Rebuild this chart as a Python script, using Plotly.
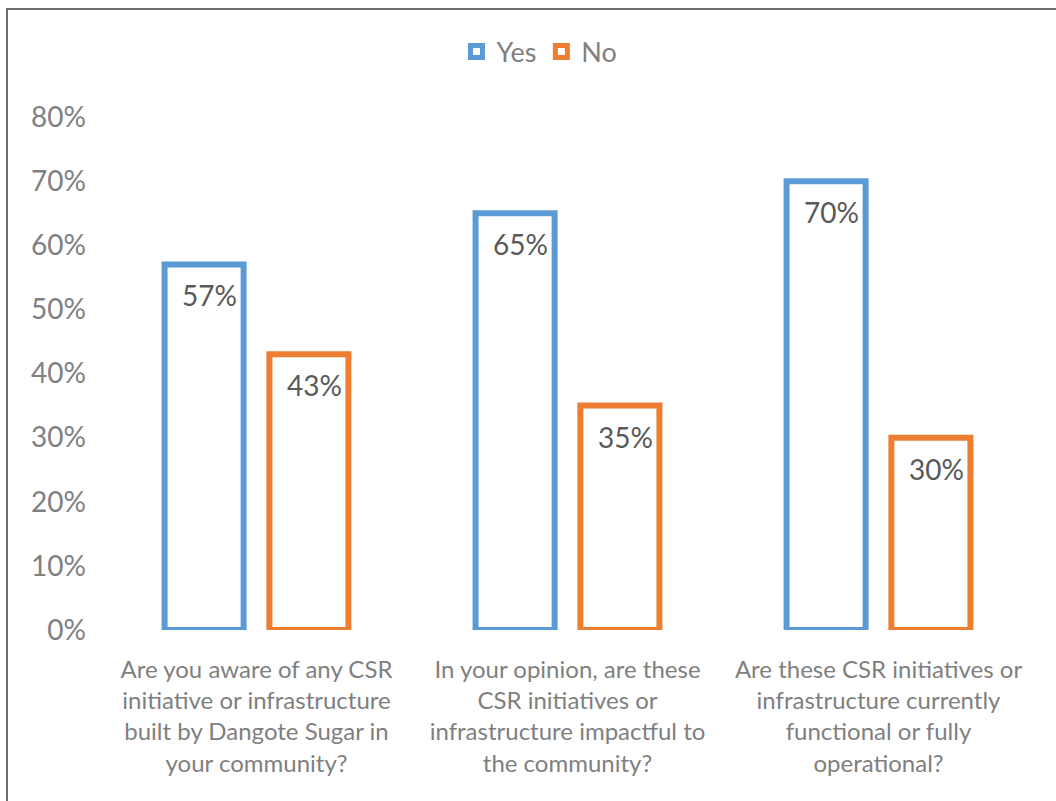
import plotly.graph_objects as go

categories = [
    "Are you aware of any CSR<br>initiative or infrastructure<br>built by Dangote Sugar in<br>your community?",
    "In your opinion, are these<br>CSR initiatives or<br>infrastructure impactful to<br>the community?",
    "Are these CSR initiatives or<br>infrastructure currently<br>functional or fully<br>operational?",
]
yes_values = [57, 65, 70]
no_values = [43, 35, 30]
y_ticks = [0, 10, 20, 30, 40, 50, 60, 70, 80]
y_tick_labels = [f"{v}%" for v in y_ticks]

FONT = "Lato"
GREY = "#7f7f7f"
LABEL = "#595959"

L, R, T, B = 101, 22, 117, 171
W, H = 1056, 801
pw = W - L - R
ph = H - T - B

series = [("Yes", yes_values, "#5B9BD5", -52), ("No", no_values, "#ED7D31", 53)]

fig = go.Figure()
annotations = []
for name, vals, color, dx in series:
    fig.add_trace(go.Bar(
        name=name,
        x=categories,
        y=vals,
        marker=dict(color="white", line=dict(color=color, width=6)),
    ))
    # value labels just below the top edge of each bar
    for cat, v in zip(categories, vals):
        annotations.append(dict(
            x=cat, y=v, xref="x", yref="y",
            text=f"{v}%", showarrow=False,
            xanchor="center", yanchor="top",
            xshift=dx + 5, yshift=-12,
            font=dict(family=FONT, size=28, color=LABEL),
        ))

fig.update_layout(
    width=W, height=H,
    margin=dict(l=L, r=R, t=T, b=B),
    paper_bgcolor="white",
    plot_bgcolor="white",
    barmode="group",
    bargap=0.326,
    bargroupgap=0.246,
    font=dict(family=FONT, color=GREY),
    showlegend=True,
    legend=dict(
        orientation="h",
        x=0.47, xanchor="center",
        y=(H - B - 52) / ph,
        yanchor="middle",
        font=dict(family=FONT, size=27, color=GREY),
        itemwidth=30,
        traceorder="normal",
    ),
    xaxis=dict(
        showline=False, showgrid=False, ticks="",
        tickfont=dict(family=FONT, size=24, color=GREY),
        ticklabelstandoff=23,
    ),
    yaxis=dict(
        range=[0, 80],
        tickvals=y_ticks,
        ticktext=y_tick_labels,
        showgrid=False, zeroline=False, showline=False,
        tickfont=dict(family=FONT, size=28, color=GREY),
        ticklabelstandoff=14,
    ),
    annotations=annotations,
    shapes=[
        dict(type="rect", xref="paper", yref="paper",
             x0=(7 - L) / pw, x1=(1070 - L) / pw,
             y0=(H - B - 820) / ph, y1=(H - B - 9) / ph,
             line=dict(color="#6d6d6d", width=2), fillcolor="rgba(0,0,0,0)", layer="below"),
    ],
)

fig.write_html("out.html")
